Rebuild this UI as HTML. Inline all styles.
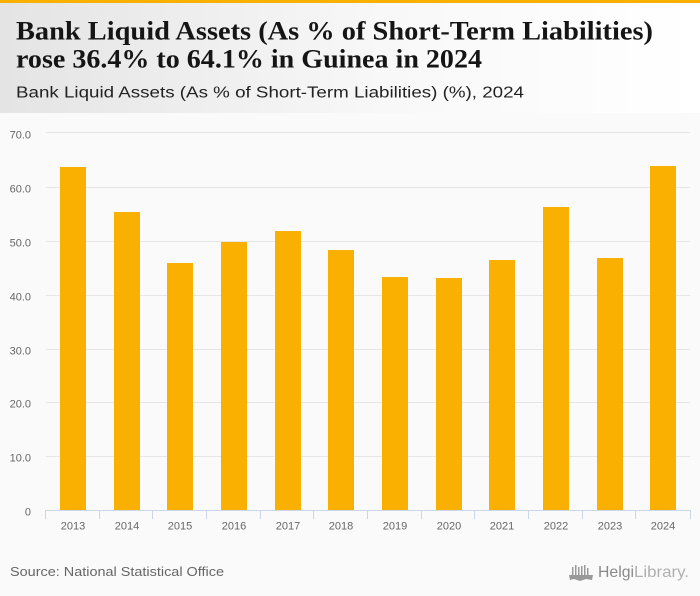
<!DOCTYPE html>
<html>
<head>
<meta charset="utf-8">
<style>
  html, body { margin:0; padding:0; background:#fafafa; }
  body { width:700px; height:596px; overflow:hidden; }
  svg { display:block; }
</style>
</head>
<body>
<svg width="700" height="596" viewBox="0 0 700 596" xmlns="http://www.w3.org/2000/svg">
  <defs>
    <linearGradient id="hdr" x1="0" y1="0" x2="1" y2="0">
      <stop offset="0" stop-color="#e4e4e4"/>
      <stop offset="0.55" stop-color="#f8f8f8"/>
      <stop offset="1" stop-color="#ffffff"/>
    </linearGradient>
  </defs>
  <rect x="0" y="0" width="700" height="596" fill="#fafafa"/>
  <rect x="0" y="0" width="700" height="113" fill="url(#hdr)"/>
  <rect x="0" y="0" width="700" height="3" fill="#f9b000"/>

  <text x="16" y="39.5" font-family="Liberation Serif, serif" font-weight="bold" font-size="26" fill="#151515" textLength="637" lengthAdjust="spacingAndGlyphs">Bank Liquid Assets (As % of Short-Term Liabilities)</text>
  <text x="16" y="67.5" font-family="Liberation Serif, serif" font-weight="bold" font-size="26" fill="#151515" textLength="466" lengthAdjust="spacingAndGlyphs">rose 36.4% to 64.1% in Guinea in 2024</text>
  <text x="16" y="97.5" font-family="Liberation Sans, sans-serif" font-size="15.5" fill="#222" textLength="508" lengthAdjust="spacingAndGlyphs">Bank Liquid Assets (As % of Short-Term Liabilities) (%), 2024</text>

  <!-- gridlines -->
  <g stroke="#e6e6e6" stroke-width="1">
    <line x1="46" x2="690" y1="132.5" y2="132.5"/>
    <line x1="46" x2="690" y1="187.5" y2="187.5"/>
    <line x1="46" x2="690" y1="241.5" y2="241.5"/>
    <line x1="46" x2="690" y1="295.5" y2="295.5"/>
    <line x1="46" x2="690" y1="349.5" y2="349.5"/>
    <line x1="46" x2="690" y1="402.5" y2="402.5"/>
    <line x1="46" x2="690" y1="456.5" y2="456.5"/>
  </g>

  <!-- y labels -->
  <g font-family="Liberation Sans, sans-serif" font-size="11" fill="#666" text-anchor="end">
    <text x="31" y="138.5">70.0</text>
    <text x="31" y="192.5">60.0</text>
    <text x="31" y="246.5">50.0</text>
    <text x="31" y="300.5">40.0</text>
    <text x="31" y="354.5">30.0</text>
    <text x="31" y="407.5">20.0</text>
    <text x="31" y="461.5">10.0</text>
    <text x="31" y="515.5">0</text>
  </g>

  <!-- bars -->
  <g fill="#f9b000">
    <rect x="60" y="167" width="26" height="343"/>
    <rect x="114" y="212" width="26" height="298"/>
    <rect x="167" y="263" width="26" height="247"/>
    <rect x="221" y="242" width="26" height="268"/>
    <rect x="275" y="231" width="26" height="279"/>
    <rect x="328" y="250" width="26" height="260"/>
    <rect x="382" y="277" width="26" height="233"/>
    <rect x="436" y="278" width="26" height="232"/>
    <rect x="489" y="260" width="26" height="250"/>
    <rect x="543" y="207" width="26" height="303"/>
    <rect x="597" y="258" width="26" height="252"/>
    <rect x="650" y="166" width="26" height="344"/>
  </g>

  <!-- x axis -->
  <g stroke="#ccd6eb" stroke-width="1">
    <line x1="45" x2="691" y1="510.5" y2="510.5"/>
    <line x1="45.5" x2="45.5" y1="510" y2="519"/>
    <line x1="99.5" x2="99.5" y1="510" y2="519"/>
    <line x1="152.5" x2="152.5" y1="510" y2="519"/>
    <line x1="206.5" x2="206.5" y1="510" y2="519"/>
    <line x1="260.5" x2="260.5" y1="510" y2="519"/>
    <line x1="313.5" x2="313.5" y1="510" y2="519"/>
    <line x1="367.5" x2="367.5" y1="510" y2="519"/>
    <line x1="421.5" x2="421.5" y1="510" y2="519"/>
    <line x1="474.5" x2="474.5" y1="510" y2="519"/>
    <line x1="528.5" x2="528.5" y1="510" y2="519"/>
    <line x1="582.5" x2="582.5" y1="510" y2="519"/>
    <line x1="635.5" x2="635.5" y1="510" y2="519"/>
    <line x1="690.5" x2="690.5" y1="510" y2="519"/>
  </g>
  <g font-family="Liberation Sans, sans-serif" font-size="11" fill="#666" text-anchor="middle">
    <text x="73" y="529.5">2013</text>
    <text x="127" y="529.5">2014</text>
    <text x="180" y="529.5">2015</text>
    <text x="234" y="529.5">2016</text>
    <text x="288" y="529.5">2017</text>
    <text x="341" y="529.5">2018</text>
    <text x="395" y="529.5">2019</text>
    <text x="449" y="529.5">2020</text>
    <text x="502" y="529.5">2021</text>
    <text x="556" y="529.5">2022</text>
    <text x="610" y="529.5">2023</text>
    <text x="663" y="529.5">2024</text>
  </g>

  <text x="10" y="576" font-family="Liberation Sans, sans-serif" font-size="13" fill="#666" textLength="214" lengthAdjust="spacingAndGlyphs">Source: National Statistical Office</text>

  <!-- logo -->
  <g fill="#999" stroke="none">
    <rect x="572" y="567" width="1.5" height="9"/>
    <rect x="575" y="565" width="1.5" height="11"/>
    <rect x="578" y="567" width="1.5" height="9"/>
    <rect x="581" y="566" width="1.5" height="10"/>
    <rect x="584" y="565" width="1.5" height="11"/>
    <rect x="587" y="568" width="1.5" height="8"/>
    <path d="M569 575 L593 575 L592 580 L586 579 L580 581 L574 579 L570 580 Z"/>
  </g>
  <text x="598" y="577" font-family="Liberation Sans, sans-serif" font-size="16" fill="#8a8a8a" textLength="36" lengthAdjust="spacingAndGlyphs">Helgi</text>
  <text x="634" y="577" font-family="Liberation Sans, sans-serif" font-size="16" fill="#b0b0b0" textLength="55" lengthAdjust="spacingAndGlyphs">Library.</text>
</svg>
</body>
</html>
